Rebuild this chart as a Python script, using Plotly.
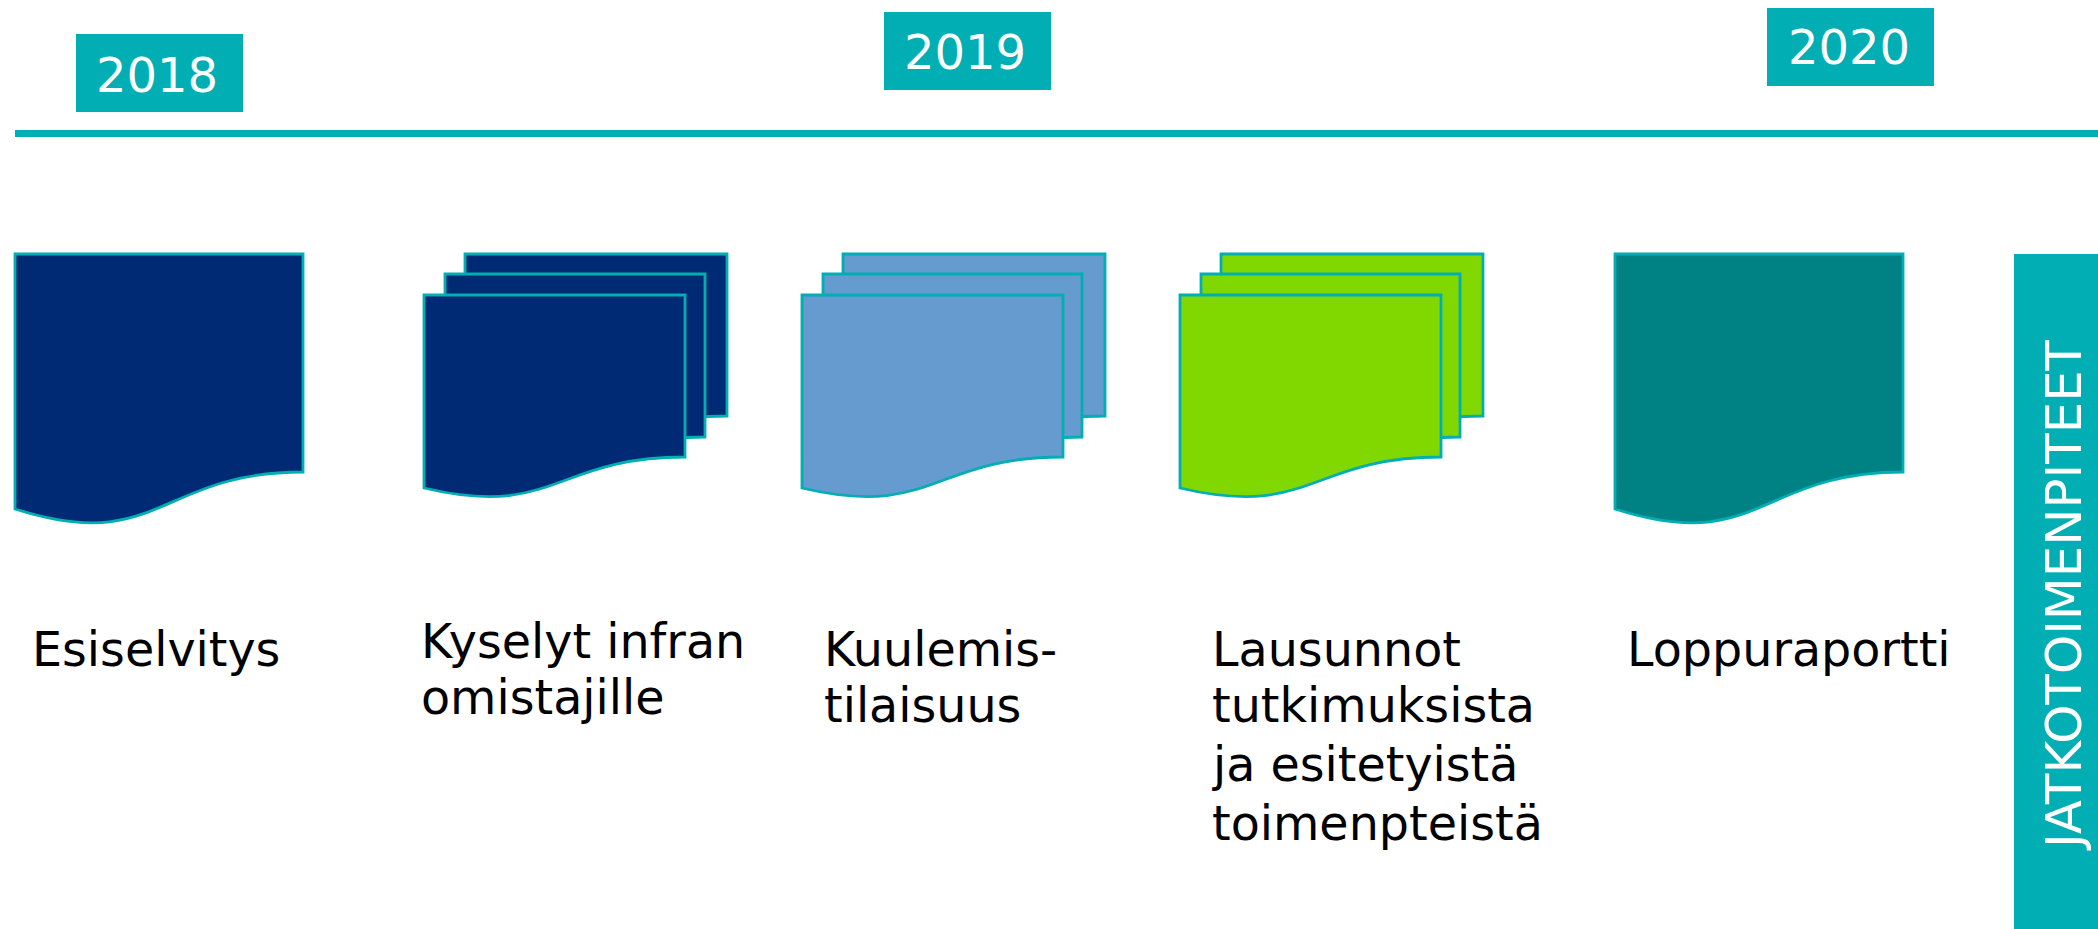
import plotly.graph_objects as go

# ---- content ----
YEARS = ["2018", "2019", "2020"]
STEP_LINES = [
    ["Esiselvitys"],
    ["Kyselyt infran", "omistajille"],
    ["Kuulemis-", "tilaisuus"],
    ["Lausunnot", "tutkimuksista", "ja esitetyistä", "toimenpteistä"],
    ["Loppuraportti"],
]
SIDE_LABEL = "JATKOTOIMENPITEET"

# ---- layout in chart units (x right, y down) ----
W, H = 2098, 929
TEAL = "#00AEB3"
NAVY = "#002B74"
BLUE = "#659BCF"
GREEN = "#80D800"
PETROL = "#008284"
FONT = "DejaVu Sans, Verdana, sans-serif"
FONT_SIZE = 47.6
YEAR_FONT_SIZE = 48
SIDE_FONT_SIZE = 49.8

YEAR_BOXES = [(76, 243, 34, 112), (884, 1051, 12, 90), (1767, 1934, 8, 86)]
YEAR_TEXT_POS = [(157, 75), (965, 52), (1849, 47)]
RULE = (15, W, 130, 137)
SIDE_BOX = (2014, W, 254, H)
SIDE_TEXT_POS = (2064, 595)

# x0, x1, top, right-bottom, left-bottom, wave control y
STACK_NAVY = [(465, 727, 254, 416, 447, 478), (445, 705, 274, 437, 468, 499), (424, 685, 295, 457, 488, 519)]
STACK_BLUE = [(843, 1105, 254, 416, 447, 478), (823, 1082, 274, 437, 468, 499), (802, 1063, 295, 457, 488, 519)]
STACK_GREEN = [(1221, 1483, 254, 416, 447, 478), (1201, 1460, 274, 437, 468, 499), (1180, 1441, 295, 457, 488, 519)]
SINGLE_NAVY = [(15, 303, 254, 472, 509, 555)]
SINGLE_PETROL = [(1615, 1903, 254, 472, 509, 555)]

STEP_X = [30, 419, 822, 1210, 1625]
STEP_BASELINES = [[666], [658, 714], [666, 722], [666, 722, 781, 840], [666]]
LINE_CENTER_OFFSET = 17


def doc_path(x0, x1, top, yr, yl, yc):
    xm = (x0 + x1) / 2
    return (f"M{x0},{top} L{x1},{top} L{x1},{yr} "
            f"C{xm},{yr} {xm},{yc} {x0},{yl} Z")


shapes = []
for docs, fill in [(SINGLE_NAVY, NAVY), (STACK_NAVY, NAVY), (STACK_BLUE, BLUE),
                   (STACK_GREEN, GREEN), (SINGLE_PETROL, PETROL)]:
    for d in docs:
        shapes.append(dict(type="path", path=doc_path(*d), fillcolor=fill,
                           line=dict(color=TEAL, width=2.8), layer="above"))

for x0, x1, y0, y1 in YEAR_BOXES + [RULE, SIDE_BOX]:
    shapes.append(dict(type="rect", x0=x0, x1=x1, y0=y0, y1=y1,
                       fillcolor=TEAL, line=dict(width=0), layer="above"))

annotations = []
for yr, (x, y) in zip(YEARS, YEAR_TEXT_POS):
    annotations.append(dict(x=x, y=y, text=yr, showarrow=False,
                            xanchor="center", yanchor="middle",
                            font=dict(family=FONT, size=YEAR_FONT_SIZE, color="white")))

for lines, x, bases in zip(STEP_LINES, STEP_X, STEP_BASELINES):
    for line, base in zip(lines, bases):
        annotations.append(dict(x=x, y=base - LINE_CENTER_OFFSET, text=line, showarrow=False,
                                xanchor="left", yanchor="middle", align="left",
                                font=dict(family=FONT, size=FONT_SIZE, color="black")))

annotations.append(dict(x=SIDE_TEXT_POS[0], y=SIDE_TEXT_POS[1], text=SIDE_LABEL, showarrow=False,
                        textangle=-90, xanchor="center", yanchor="middle",
                        font=dict(family=FONT, size=SIDE_FONT_SIZE, color="white")))

fig = go.Figure()
fig.update_layout(
    width=W, height=H, autosize=False,
    margin=dict(l=0, r=0, t=0, b=0, pad=0),
    paper_bgcolor="white", plot_bgcolor="white",
    xaxis=dict(range=[0, W], visible=False, fixedrange=True),
    yaxis=dict(range=[H, 0], visible=False, fixedrange=True),
    showlegend=False,
    shapes=shapes, annotations=annotations,
)
fig.write_html("out.html", config=dict(displayModeBar=False),
               post_script="document.body.style.margin='0';document.body.style.overflow='hidden';")
